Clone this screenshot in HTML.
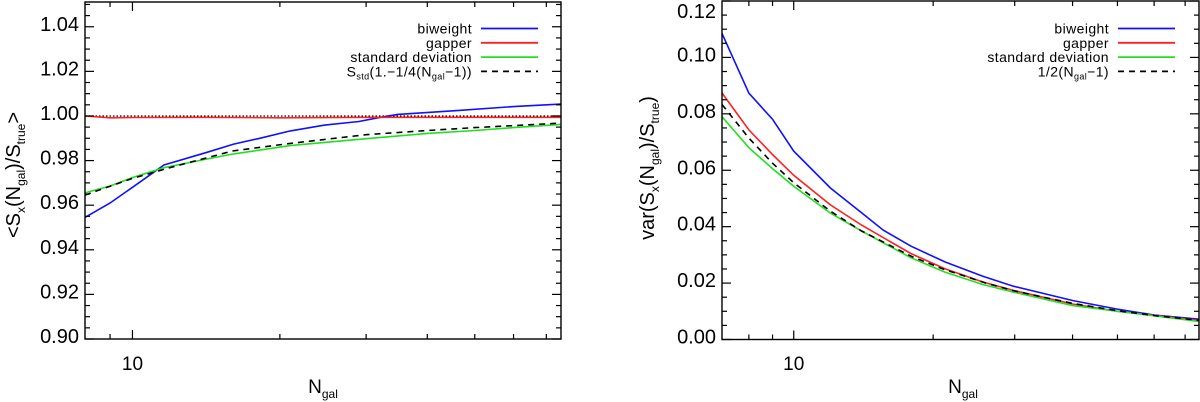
<!DOCTYPE html>
<html><head><meta charset="utf-8"><style>
html,body{margin:0;padding:0;background:#fff;}
svg{display:block;font-family:"Liberation Sans",sans-serif;}
</style></head><body>
<svg id="fig" width="1200" height="402" viewBox="0 0 1200 402"></svg>
<script>
// ---- data: left panel (mean ratio) ----
const leftBiweightN = [8, 9, 10, 11.6, 14.2, 16.1, 18.2, 21, 24.7, 29, 32.4, 34.8, 46.4, 60.6, 75];
const leftBiweightV = [0.9545, 0.961, 0.968, 0.978, 0.9837, 0.9874, 0.990, 0.9933, 0.9959, 0.9975, 0.9996, 1.0007, 1.0025, 1.0043, 1.0053];
const leftGapperN = [8, 9, 10, 14, 20, 30, 40, 50, 60, 75];
const leftGapperV = [1.000, 0.9992, 0.9993, 0.9994, 0.9992, 0.9994, 0.9994, 0.9994, 0.9994, 0.9994];
const leftStdN = [8, 9, 10, 11.6, 14.2, 16.1, 21, 30, 40, 50, 60, 75];
const leftStdV = [0.9655, 0.9686, 0.9724, 0.9768, 0.9807, 0.983, 0.9867, 0.9898, 0.9922, 0.9935, 0.9948, 0.9962];
const leftDashN = [8, 9, 10, 12, 16, 21, 30, 40, 50, 60, 75];
const leftDashV = [0.9645, 0.9685, 0.972, 0.977, 0.9843, 0.9877, 0.9916, 0.9935, 0.9948, 0.9957, 0.9968];
const leftYTicks = [0.90, 0.92, 0.94, 0.96, 0.98, 1.00, 1.02, 1.04];
// ---- data: right panel (variance) ----
const rightBiweightN = [7, 8, 9, 10, 12, 14, 15.6, 17.9, 21.2, 25.6, 29.8, 40.1, 49.8, 60, 75];
const rightBiweightV = [0.1085, 0.0873, 0.0781, 0.0668, 0.0537, 0.045, 0.0388, 0.0331, 0.0275, 0.0224, 0.0189, 0.0138, 0.0108, 0.0087, 0.0072];
const rightGapperN = [7, 8, 9, 10, 12, 14, 17.9, 21.2, 25.6, 29.8, 40, 50, 75];
const rightGapperV = [0.0874, 0.0743, 0.0656, 0.0582, 0.0477, 0.0406, 0.0305, 0.0251, 0.0204, 0.0174, 0.0126, 0.0100, 0.0068];
const rightStdN = [7, 8, 9, 10, 12, 14, 17.9, 21.2, 25.6, 29.8, 40, 75];
const rightStdV = [0.079, 0.068, 0.0606, 0.0543, 0.0448, 0.0385, 0.029, 0.0239, 0.0195, 0.0168, 0.012, 0.0064];
const rightDashN = [7, 8, 9, 10, 12, 14, 18, 21, 26, 30, 40, 50, 60, 75];
const rightDashV = [0.0833, 0.0714, 0.0625, 0.0556, 0.0455, 0.0385, 0.0294, 0.025, 0.020, 0.0172, 0.0128, 0.0102, 0.0085, 0.0068];
const rightYTicks = [0.00, 0.02, 0.04, 0.06, 0.08, 0.10, 0.12];
const xMajor = [10];
const xMinor = [7, 8, 9, 20, 30, 40, 50, 60, 70];

const NS = "http://www.w3.org/2000/svg";
const svg = document.getElementById("fig");
function mk(tag, attrs, parent) {
  const e = document.createElementNS(NS, tag);
  for (const k in attrs) e.setAttribute(k, attrs[k]);
  (parent || svg).appendChild(e);
  return e;
}

function panel(cfg) {
  const g = mk("g", {});
  
  
  const {x0, x1, y0, y1, xmin, xmax, ymin, ymax} = cfg;
  const X = n => x0 + (Math.log10(n) - Math.log10(xmin)) / (Math.log10(xmax) - Math.log10(xmin)) * (x1 - x0);
  const Y = v => y1 - (v - ymin) / (ymax - ymin) * (y1 - y0);
  if (cfg.refLine !== undefined) {
    const l = mk("line", {x1: x0, x2: x1, y1: Y(cfg.refLine), y2: Y(cfg.refLine), stroke: "#000", "stroke-width": 1.3, "stroke-dasharray": "1.5,2"}, g);
    
    
  }
  cfg.series.forEach(s => {
    const pts = s.n.map((n, i) => X(n).toFixed(1) + "," + Y(s.v[i]).toFixed(1)).join(" ");
    const p = mk("polyline", {points: pts, fill: "none", stroke: s.color, "stroke-width": 1.6, "stroke-dasharray": s.dash || "none"}, g);
    
    
  });
  const box = mk("rect", {x: x0, y: y0, width: x1 - x0, height: y1 - y0, fill: "none", stroke: "#000", "stroke-width": 1.4}, g);
  
  
  const step = 0.005;
  for (let v = ymin; v <= ymax + 1e-9; v += step) {
    const y = Y(v);
    const idx = Math.round((v - cfg.yTicks[0]) / step);
    const major = idx % 4 === 0;
    const len = major ? 9 : 5;
    mk("line", {x1: x0, x2: x0 + len, y1: y, y2: y, stroke: "#000", "stroke-width": 1.2}, g);
    mk("line", {x1: x1, x2: x1 - len, y1: y, y2: y, stroke: "#000", "stroke-width": 1.2}, g);
  }
  cfg.yTicks.forEach(v => {
    const t = mk("text", {x: x0 - 6, y: Math.max(Y(v) + 4, 18), "text-anchor": "end", "font-size": 20, fill: "#000"}, g);
    t.textContent = v.toFixed(2);
    
    
  });
  xMinor.concat(xMajor).forEach(n => {
    if (n <= xmin || n >= xmax) return;
    const major = xMajor.includes(n);
    const len = major ? 9 : 5;
    mk("line", {x1: X(n), x2: X(n), y1: y1, y2: y1 - len, stroke: "#000", "stroke-width": 1.2}, g);
    mk("line", {x1: X(n), x2: X(n), y1: y0, y2: y0 + len, stroke: "#000", "stroke-width": 1.2}, g);
  });
  xMajor.forEach(n => {
    const t = mk("text", {x: X(n), y: 370, "text-anchor": "middle", "font-size": 19, fill: "#000"}, g);
    t.textContent = String(n);
    
    
  });
  const xt = mk("text", {x: cfg.xTitleX, y: 393, "text-anchor": "middle", "font-size": 19, fill: "#000"}, g);
  xt.innerHTML = 'N<tspan font-size="12" dy="5">gal</tspan>';
  
  
  const yt = mk("text", {x: 0, y: 0, "text-anchor": "middle", "font-size": 20, fill: "#000", transform: `translate(${cfg.yTitleX},${cfg.yTitleY}) rotate(-90)`}, g);
  yt.innerHTML = cfg.yTitle;
  
  
  cfg.series.forEach((s, i) => {
    const ly = 28.5 + i * 14.3;
    const lt = mk("text", {x: cfg.legX, y: ly + 5, "text-anchor": "end", "font-size": 14, "letter-spacing": "0.4", fill: "#000"}, g);
    lt.innerHTML = s.label;
    
    
    const ll = mk("line", {x1: cfg.legX + 9, x2: cfg.legX + 66, y1: ly, y2: ly, stroke: s.color, "stroke-width": 1.8, "stroke-dasharray": s.dash || "none"}, g);
    
    
  });
}

panel({
  name: "left-panel", x0: 85, x1: 561, y0: 2, y1: 339, xmin: 8, xmax: 75, ymin: 0.90, ymax: 1.0511,
  yTicks: leftYTicks, refLine: 1.0, xTitleX: 323, yTitleX: 20, yTitleY: 175, legX: 472,
  yTitle: '&lt;S<tspan font-size="12" dy="5">x</tspan><tspan dy="-5">(N</tspan><tspan font-size="12" dy="5">gal</tspan><tspan dy="-5">)/S</tspan><tspan font-size="12" dy="5">true</tspan><tspan dy="-5">&gt;</tspan>',
  series: [
    {id: "biweight", n: leftBiweightN, v: leftBiweightV, color: "#1010ff", label: "biweight"},
    {id: "gapper", n: leftGapperN, v: leftGapperV, color: "#ff2020", label: "gapper"},
    {id: "std", n: leftStdN, v: leftStdV, color: "#20e020", label: "standard deviation"},
    {id: "approx", n: leftDashN, v: leftDashV, color: "#000", dash: "6,5", label: 'S<tspan font-size="9" dy="3">std</tspan><tspan dy="-3">(1.−1/4(N</tspan><tspan font-size="9" dy="3">gal</tspan><tspan dy="-3">−1))</tspan>'}
  ]
});
panel({
  name: "right-panel", x0: 722, x1: 1199, y0: 1, y1: 339.5, xmin: 7, xmax: 75, ymin: 0.0, ymax: 0.12,
  yTicks: rightYTicks, xTitleX: 963, yTitleX: 654, yTitleY: 168, legX: 1109,
  yTitle: 'var(S<tspan font-size="12" dy="5">x</tspan><tspan dy="-5">(N</tspan><tspan font-size="12" dy="5">gal</tspan><tspan dy="-5">)/S</tspan><tspan font-size="12" dy="5">true</tspan><tspan dy="-5">)</tspan>',
  series: [
    {id: "biweight", n: rightBiweightN, v: rightBiweightV, color: "#1010ff", label: "biweight"},
    {id: "gapper", n: rightGapperN, v: rightGapperV, color: "#ff2020", label: "gapper"},
    {id: "std", n: rightStdN, v: rightStdV, color: "#20e020", label: "standard deviation"},
    {id: "approx", n: rightDashN, v: rightDashV, color: "#000", dash: "6,5", label: '1/2(N<tspan font-size="9" dy="3">gal</tspan><tspan dy="-3">−1)</tspan>'}
  ]
});
</script>
</body></html>
